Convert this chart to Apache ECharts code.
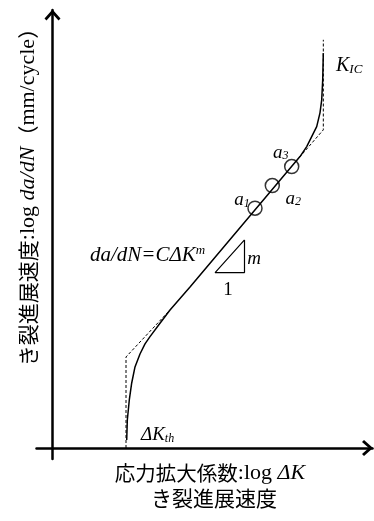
<!DOCTYPE html>
<html><head><meta charset="utf-8">
<script src="https://cdn.jsdelivr.net/npm/echarts@6/dist/echarts.min.js"></script>
<style>html,body{margin:0;padding:0;background:#fff}#c{width:374px;height:521px}</style>
</head><body><div id="c"></div>
<script>
// x = log ΔK, y = log da/dN (schematic, arbitrary log units)
const crackCurve = [[2.319,0.182],[2.338,0.636],[2.400,1.091],[2.475,1.477],[2.578,1.841],[2.734,2.136],[2.891,2.364],[3.047,2.530],[3.359,2.834],[3.672,3.136],[4.297,3.659],[7.734,6.620],[7.944,6.848],[8.100,7.075],[8.256,7.302],[8.359,7.614],[8.413,7.909],[8.444,8.364],[8.463,8.970]];
const thresholdAsymptote = [[2.297,0],[2.297,2.068],[3.672,3.136]];
const toughnessAsymptote = [[7.609,6.513],[8.463,7.227],[8.463,9.273]];
const crackPoints = [[6.328,5.448],[6.869,5.961],[7.475,6.393]];
const crackPointNames = ['1','2','3'];
const slopeTriangle = [[6.0,4.727],[5.081,3.984],[6.0,3.984],[6.0,4.727]];
const titleText = 'き裂進展速度';
const xLabelParts = ['応力拡大係数', ':log ', 'ΔK'];
const yLabelParts = ['き裂進展速度', ':log ', 'da/dN', '（', 'mm/cycle', '）'];

const SERIF = 'Liberation Serif';
const CJK = 'Noto Sans CJK JP';
const chevron = 'path://M8,0 L16,9 L14,11 L8,4.2 L2,11 L0,9 Z';
// label offsets (px) from each circle centre
const labelShift = [[-13, -8], [21, 13], [-11, -14]];

const chart = echarts.init(document.getElementById('c'), null, {renderer:'canvas'});
const graphics = [
    {type: 'text', x: 336, y: 66, style: {
      text: '{k|K}{s|IC}', align: 'left', verticalAlign: 'middle',
      rich: {k: {fontFamily: SERIF, fontStyle: 'italic', fontSize: 20, fill: '#000'},
             s: {fontFamily: SERIF, fontStyle: 'italic', fontSize: 13, fill: '#000', verticalAlign: 'bottom'}}}},
    {type: 'text', x: 141, y: 435, style: {
      text: '{k|ΔK}{s|th}', align: 'left', verticalAlign: 'middle',
      rich: {k: {fontFamily: SERIF, fontStyle: 'italic', fontSize: 19, fill: '#000'},
             s: {fontFamily: SERIF, fontStyle: 'italic', fontSize: 12, fill: '#000', verticalAlign: 'bottom'}}}},
    {type: 'text', x: 90, y: 255, style: {
      text: '{t|da/dN=CΔK}{p|m}', align: 'left', verticalAlign: 'middle',
      rich: {t: {fontFamily: SERIF, fontStyle: 'italic', fontSize: 21, fill: '#000'},
             p: {fontFamily: SERIF, fontStyle: 'italic', fontSize: 13, fill: '#000', verticalAlign: 'top'}}}},
    {type: 'text', x: 254, y: 259, style: {
      text: 'm', align: 'center', verticalAlign: 'middle',
      font: 'italic 19px "Liberation Serif"', fill: '#000'}},
    {type: 'text', x: 228, y: 290, style: {
      text: '1', align: 'center', verticalAlign: 'middle',
      font: '19px "Liberation Serif"', fill: '#000'}},
    {type: 'text', x: 210, y: 473, style: {
      text: '{j|' + xLabelParts[0] + '}{t|' + xLabelParts[1] + '}{i|' + xLabelParts[2] + '}',
      align: 'center', verticalAlign: 'middle',
      rich: {j: {fontFamily: CJK, fontSize: 20.5, fill: '#000'},
             t: {fontFamily: SERIF, fontSize: 22, fill: '#000'},
             i: {fontFamily: SERIF, fontStyle: 'italic', fontSize: 22, fill: '#000'}}}},
    {type: 'text', x: 28, y: 192, rotation: Math.PI / 2, style: {
      text: '{j|' + yLabelParts[0] + '}{t|' + yLabelParts[1] + '}{i|' + yLabelParts[2] + '}{j|' + yLabelParts[3] + '}{t|' + yLabelParts[4] + '}{j|' + yLabelParts[5] + '}',
      align: 'center', verticalAlign: 'middle',
      rich: {j: {fontFamily: CJK, fontSize: 21, fill: '#000'},
             t: {fontFamily: SERIF, fontSize: 22, fill: '#000'},
             i: {fontFamily: SERIF, fontStyle: 'italic', fontSize: 22, fill: '#000'}}}}
];

chart.setOption({
  animation: false,
  backgroundColor: '#fff',
  title: {
    text: titleText, left: 146, top: 483,
    textStyle: {fontFamily: CJK, fontSize: 21, fontWeight: 'normal', color: '#000'}
  },
  grid: {left: 36.5, right: 1.5, top: 10, bottom: 62},
  xAxis: {
    type: 'value', min: -0.5, max: 10,
    axisLine: {onZero: true, lineStyle: {color: '#000', width: 2.5},
      symbol: ['none', chevron], symbolSize: [16, 11], symbolOffset: [0, -5]},
    axisTick: {show: false}, axisLabel: {show: false}, splitLine: {show: false}
  },
  yAxis: {
    type: 'value', min: -0.25, max: 9.95,
    axisLine: {onZero: true, lineStyle: {color: '#000', width: 2.5},
      symbol: ['none', chevron], symbolSize: [16, 11], symbolOffset: [0, -5]},
    axisTick: {show: false}, axisLabel: {show: false}, splitLine: {show: false}
  },
  series: [
    {type: 'line', data: thresholdAsymptote, showSymbol: false, silent: true,
      lineStyle: {color: '#000', width: 1, type: [3, 2]}},
    {type: 'line', data: toughnessAsymptote, showSymbol: false, silent: true,
      lineStyle: {color: '#000', width: 1, type: [3, 2]}},
    {type: 'scatter', z: 2, symbol: 'circle', symbolSize: 14, silent: true,
      itemStyle: {color: '#fff', borderColor: '#000', borderWidth: 1.5},
      data: crackPoints},
    {type: 'line', data: crackCurve, showSymbol: false, silent: true, z: 3,
      lineStyle: {color: '#000', width: 1.5}},
    {type: 'line', data: slopeTriangle, showSymbol: false, silent: true,
      lineStyle: {color: '#000', width: 1.2}}
  ],
  graphic: graphics
});

// circle labels a1..a3 placed relative to the data points
const pointLabels = crackPoints.map((p, i) => {
  const px = chart.convertToPixel({gridIndex: 0}, p);
  return {type: 'text', x: px[0] + labelShift[i][0], y: px[1] + labelShift[i][1], style: {
    text: '{a|a}{s|' + crackPointNames[i] + '}', align: 'center', verticalAlign: 'middle',
    rich: {a: {fontFamily: SERIF, fontStyle: 'italic', fontSize: 19, fill: '#000'},
           s: {fontFamily: SERIF, fontStyle: 'italic', fontSize: 12, fill: '#000', verticalAlign: 'bottom'}}}};
});
chart.setOption({graphic: graphics.concat(pointLabels)});
</script>
</body></html>
